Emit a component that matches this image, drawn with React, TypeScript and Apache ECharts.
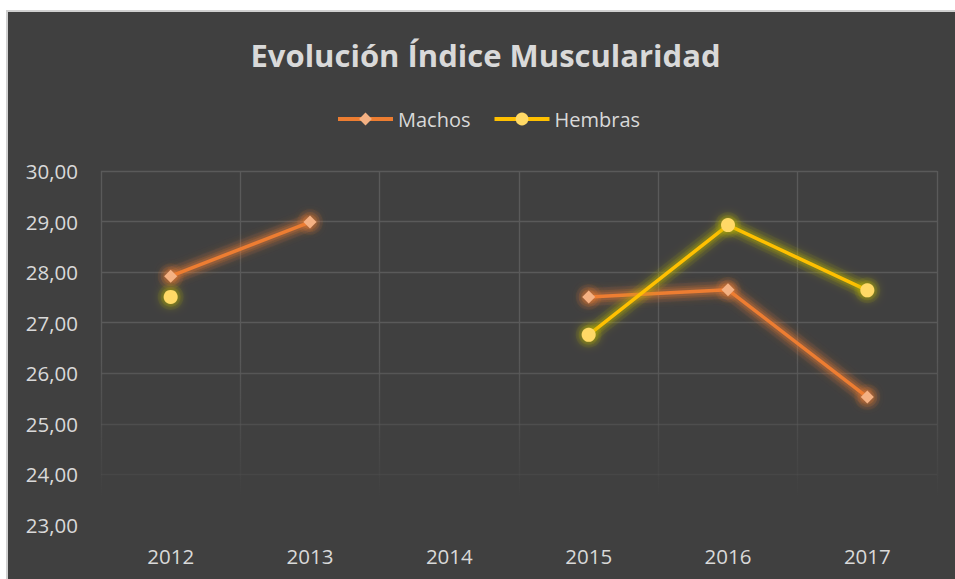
import React, { useEffect, useRef } from "react";
import * as echarts from "echarts";

const years = ["2012", "2013", "2014", "2015", "2016", "2017"];
const machos: (number | null)[] = [27.92, 28.99, null, 27.51, 27.65, 25.53];
const hembras: (number | null)[] = [27.51, null, null, 26.76, 28.93, 27.64];
const yMin = 23;
const yMax = 30;
const yStep = 1;

function glow(name: string, data: (number | null)[], rgb: string, width: number, size: number, alpha: number) {
  return {
    name: name + " glow " + width,
    type: "line",
    data,
    silent: true,
    z: 1,
    symbol: "circle",
    symbolSize: size,
    connectNulls: false,
    lineStyle: { color: `rgba(${rgb},${alpha})`, width },
    itemStyle: { color: `rgba(${rgb},${alpha})`, borderWidth: 0 },
  };
}

export default function App() {
  const ref = useRef<HTMLDivElement>(null);
  useEffect(() => {
    if (!ref.current) return;
    const chart = echarts.init(ref.current, undefined, { renderer: "svg" });
    const gridTop = 171;
    const gridBottom = 525;
    const gridCol = "#5a5a5a";
    const vGrad = {
      type: "linear",
      x: 0,
      y: gridTop,
      x2: 0,
      y2: gridBottom,
      global: true,
      colorStops: [
        { offset: 0, color: gridCol },
        { offset: 0.5, color: gridCol },
        { offset: 0.92, color: "rgba(90,90,90,0)" },
        { offset: 1, color: "rgba(90,90,90,0)" },
      ],
    };
    const orange = "237,125,49";
    const olive = "190,185,0";
    chart.setOption({
      animation: false,
      textStyle: { fontFamily: "Open Sans" },
      title: {
        text: "Evolución Índice Muscularidad",
        left: "center",
        top: 34,
        textStyle: { color: "#d9d9d9", fontSize: 31, fontWeight: "bold", fontFamily: "Open Sans" },
      },
      legend: {
        data: ["Machos", "Hembras"],
        top: 104,
        left: 323,
        itemWidth: 55,
        itemHeight: 16,
        itemGap: 22,
        textStyle: { color: "#d9d9d9", fontSize: 20, fontFamily: "Open Sans" },
        lineStyle: { width: 4, shadowBlur: 0, shadowColor: "transparent" },
        itemStyle: { shadowBlur: 0, shadowColor: "transparent" },
      },
      grid: { left: 93, right: 26, top: gridTop, bottom: 579 - gridBottom, containLabel: false },
      xAxis: {
        type: "category",
        data: years,
        boundaryGap: true,
        axisLine: { show: false },
        axisTick: { show: false },
        axisLabel: { color: "#d9d9d9", fontSize: 20.5, margin: 20 },
        splitLine: { show: true, lineStyle: { color: vGrad, width: 1.3 } },
      },
      yAxis: {
        type: "value",
        min: yMin,
        max: yMax,
        interval: yStep,
        axisLine: { show: false },
        axisTick: { show: false },
        axisLabel: {
          color: "#d9d9d9",
          fontSize: 20.5,
          margin: 23,
          formatter: (v: number) => v.toFixed(2).replace(".", ","),
        },
        splitLine: {
          show: true,
          lineStyle: {
            width: 1.3,
            color: [
              "rgba(90,90,90,0)",
              "rgba(90,90,90,0.25)",
              "rgba(90,90,90,0.55)",
              "rgba(90,90,90,0.85)",
              gridCol,
              gridCol,
              gridCol,
              gridCol,
            ],
          },
        },
      },
      series: [
        glow("Machos", machos, orange, 18, 26, 0.08),
        glow("Machos", machos, orange, 12, 20, 0.12),
        glow("Machos", machos, orange, 8, 15, 0.18),
        glow("Hembras", hembras, olive, 18, 26, 0.08),
        glow("Hembras", hembras, olive, 12, 20, 0.12),
        glow("Hembras", hembras, olive, 8, 15, 0.18),
        {
          name: "Machos",
          type: "line",
          data: machos,
          z: 3,
          symbol: "diamond",
          symbolSize: 13,
          connectNulls: false,
          lineStyle: { color: "#ED7D31", width: 3.5, shadowBlur: 12, shadowColor: `rgba(${orange},1)` },
          itemStyle: { color: "#F4B183", borderWidth: 0, shadowBlur: 12, shadowColor: `rgba(${orange},1)` },
        },
        {
          name: "Hembras",
          type: "line",
          data: hembras,
          z: 3,
          symbol: "circle",
          symbolSize: 14,
          connectNulls: false,
          lineStyle: { color: "#FFC000", width: 3.5, shadowBlur: 12, shadowColor: `rgba(${olive},1)` },
          itemStyle: { color: "#FFD966", borderWidth: 0, shadowBlur: 12, shadowColor: `rgba(${olive},1)` },
        },
      ],
    });
    return () => chart.dispose();
  }, []);
  return (
    <div style={{ position: "fixed", left: 0, top: 0, width: 955, height: 579, background: "#ffffff", overflow: "hidden" }}>
      <div
        style={{
          position: "absolute",
          left: 6,
          top: 10,
          width: 960,
          height: 580,
          background: "#404040",
          border: "2px solid #d0d0d0",
          boxSizing: "border-box",
        }}
      />
      <div ref={ref} style={{ position: "absolute", left: 8, top: 0, width: 955, height: 579 }} />
    </div>
  );
}
